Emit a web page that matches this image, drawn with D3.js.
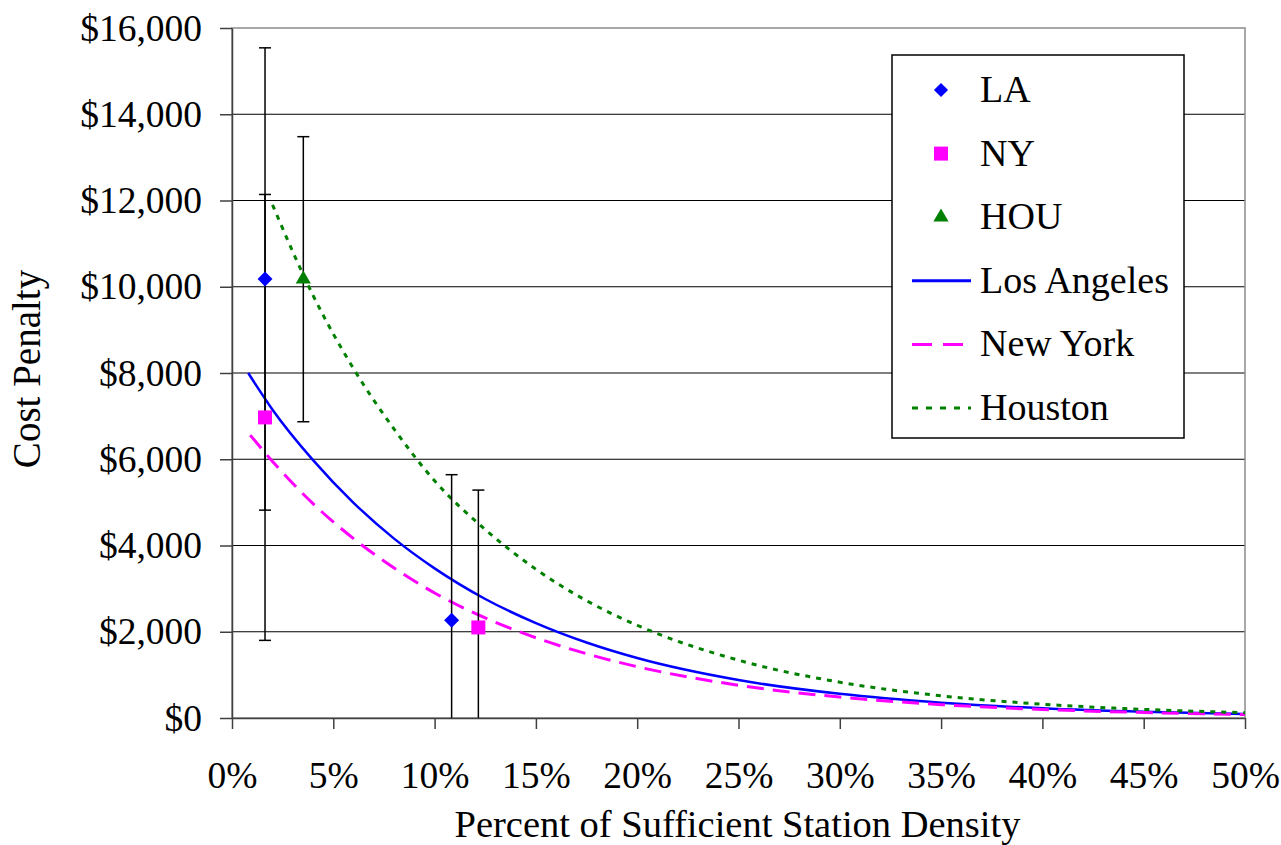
<!DOCTYPE html>
<html>
<head>
<meta charset="utf-8">
<script src="https://cdn.jsdelivr.net/npm/d3@7"></script>
<style>
  body { margin: 0; background: #fff; }
  svg text { font-family: "Liberation Serif", "Times New Roman", Times, "DejaVu Serif", serif !important; }
</style>
</head>
<body>
<div id="area_chart"></div>
<script>
// observed points (percent of sufficient density, cost penalty, error)
const laPct = [1.63, 10.84];
const laCost = [10180, 2265];
const laErr = [5360, 3377];

const nyPct = [1.63, 12.16];
const nyCost = [6970, 2100];
const nyErr = [5170, 3185];

const houPct = [3.52];
const houCost = [10175];
const houErr = [3305];

// fitted curves
const laCurvePct = [0.8, 2, 4, 6, 8, 10, 12.5, 15, 17.5, 20, 25, 30, 35, 40, 45, 50];
const laCurveCost = [8000, 7150, 5980, 4990, 4160, 3470, 2760, 2200, 1750, 1390, 880, 560, 355, 225, 143, 91];

const nyCurvePct = [0.9, 2, 4, 6, 8, 10, 12.5, 15, 17.5, 20, 25, 30, 35, 40, 45, 50];
const nyCurveCost = [6560, 5950, 4970, 4160, 3480, 2900, 2320, 1860, 1490, 1190, 760, 485, 310, 198, 127, 81];

const houCurvePct = [2, 4, 6, 8, 10, 12.5, 15, 17.5, 20, 25, 30, 35, 40, 45, 50];
const houCurveCost = [11900, 9800, 8100, 6700, 5500, 4370, 3450, 2720, 2150, 1340, 830, 515, 320, 200, 123];

const xTicks = [0, 5, 10, 15, 20, 25, 30, 35, 40, 45, 50];
const yTicks = [0, 2000, 4000, 6000, 8000, 10000, 12000, 14000, 16000];
const legendLabels = ["LA", "NY", "HOU", "Los Angeles", "New York", "Houston"];

const FONT = '"Liberation Serif", "Times New Roman", Times, "DejaVu Serif", serif';

function drawChart(){
    let dimensions = {
        width: 1281,
        height: 845,
        margin: { top: 28, left: 232, right: 36, bottom: 127 }
    };
    dimensions.boundedWidth = dimensions.width - dimensions.margin.left - dimensions.margin.right;
    dimensions.boundedHeight = dimensions.height - dimensions.margin.top - dimensions.margin.bottom;

    const svg = d3.select("#area_chart").append("svg")
        .attr("width", dimensions.width)
        .attr("height", dimensions.height)
        .style("font-family", FONT);

    const bounded = svg.append("g")
        .attr("transform", `translate(${dimensions.margin.left},${dimensions.margin.top})`);

    const xScale = d3.scaleLinear().domain([0, 50]).range([0, dimensions.boundedWidth]);
    const yScale = d3.scaleLinear().domain([0, 16000]).range([dimensions.boundedHeight, 0]);

    // gridlines
    bounded.append("g").selectAll("line")
        .data(yTicks.slice(1, -1))
        .join("line")
        .attr("x1", 0).attr("x2", dimensions.boundedWidth)
        .attr("y1", d => yScale(d)).attr("y2", d => yScale(d))
        .attr("stroke", "#000").attr("stroke-width", 1);

    bounded.append("rect")
        .attr("x", 0).attr("y", 0)
        .attr("width", dimensions.boundedWidth).attr("height", dimensions.boundedHeight)
        .attr("fill", "none").attr("stroke", "#8c8c8c").attr("stroke-width", 1.5);

    // curves
    const toPoints = (xs, ys) => xs.map((x, i) => [x, ys[i]]);
    const line = d3.line()
        .x(d => xScale(d[0]))
        .y(d => yScale(d[1]))
        .curve(d3.curveMonotoneX);

    bounded.append("path")
        .attr("d", line(toPoints(laCurvePct, laCurveCost)))
        .attr("fill", "none").attr("stroke", "#0000ff").attr("stroke-width", 2.5);
    bounded.append("path")
        .attr("d", line(toPoints(nyCurvePct, nyCurveCost)))
        .attr("fill", "none").attr("stroke", "#ff00ff").attr("stroke-width", 3)
        .attr("stroke-dasharray", "17,9");
    bounded.append("path")
        .attr("d", line(toPoints(houCurvePct, houCurveCost)))
        .attr("fill", "none").attr("stroke", "#008000").attr("stroke-width", 3)
        .attr("stroke-dasharray", "5,6");

    // error bars
    const series = [
        { pct: laPct, cost: laCost, err: laErr, shape: "diamond", color: "#0000ff" },
        { pct: nyPct, cost: nyCost, err: nyErr, shape: "square", color: "#ff00ff" },
        { pct: houPct, cost: houCost, err: houErr, shape: "triangle", color: "#008000" }
    ];

    const errG = bounded.append("g").attr("stroke", "#000").attr("stroke-width", 1.5);
    series.forEach(s => {
        s.pct.forEach((p, i) => {
            const x = xScale(p);
            const hi = yScale(s.cost[i] + s.err[i]);
            const lowVal = s.cost[i] - s.err[i];
            const lo = yScale(Math.max(0, lowVal));
            errG.append("line").attr("x1", x).attr("x2", x).attr("y1", hi).attr("y2", lo);
            errG.append("line").attr("x1", x - 6).attr("x2", x + 6).attr("y1", hi).attr("y2", hi);
            if (lowVal > 0) {
                errG.append("line").attr("x1", x - 6).attr("x2", x + 6).attr("y1", lo).attr("y2", lo);
            }
        });
    });

    const symbolFor = shape => {
        if (shape === "diamond") return d3.symbol(d3.symbolSquare, 112)();
        if (shape === "square") return d3.symbol(d3.symbolSquare, 196)();
        return d3.symbol(d3.symbolTriangle, 100)();
    };

    series.forEach(s => {
        bounded.append("g").selectAll("path")
            .data(s.pct.map((p, i) => [p, s.cost[i]]))
            .join("path")
            .attr("d", symbolFor(s.shape))
            .attr("transform", d => `translate(${xScale(d[0])},${yScale(d[1])})` + (s.shape === "diamond" ? " rotate(45)" : ""))
            .attr("fill", s.color);
    });

    // axes
    const xAxis = d3.axisBottom(xScale)
        .tickValues(xTicks).tickFormat(d => d + "%")
        .tickSize(11).tickSizeOuter(0).tickPadding(32);
    const yAxis = d3.axisLeft(yScale)
        .tickValues(yTicks).tickFormat(d => "$" + d3.format(",")(d))
        .tickSize(12).tickSizeOuter(0).tickPadding(18);

    const xG = bounded.append("g")
        .attr("transform", `translate(0,${dimensions.boundedHeight})`)
        .call(xAxis);
    const yG = bounded.append("g").call(yAxis);

    [xG, yG].forEach(g => {
        g.attr("font-family", null).attr("font-size", null);
        g.selectAll("path, line").attr("stroke", "#404040").attr("stroke-width", 1.5);
        g.selectAll("text").style("font-size", "37.5px").attr("fill", "#000")
            .style("font-family", FONT);
    });

    svg.append("text")
        .attr("x", dimensions.margin.left + dimensions.boundedWidth / 2 - 1)
        .attr("y", 837)
        .attr("text-anchor", "middle")
        .style("font-size", "38.5px")
        .text("Percent of Sufficient Station Density");

    svg.append("text")
        .attr("transform", `translate(40,${dimensions.margin.top + dimensions.boundedHeight / 2 - 4}) rotate(-90)`)
        .attr("text-anchor", "middle")
        .style("font-size", "39px")
        .text("Cost Penalty");

    // legend
    const legend = svg.append("g").attr("transform", "translate(892,55)");
    legend.append("rect")
        .attr("width", 292).attr("height", 383)
        .attr("fill", "#fff").attr("stroke", "#000").attr("stroke-width", 1.5);

    const rowY = i => 35 + i * 63.6;
    series.forEach((s, i) => {
        legend.append("path")
            .attr("d", s.shape === "diamond" ? d3.symbol(d3.symbolSquare, 100)() :
                       s.shape === "square" ? d3.symbol(d3.symbolSquare, 196)() :
                       d3.symbol(d3.symbolTriangle, 100)())
            .attr("transform", `translate(49,${rowY(i)})` + (s.shape === "diamond" ? " rotate(45)" : ""))
            .attr("fill", s.color);
    });

    const lineStyles = [
        { color: "#0000ff", dash: null },
        { color: "#ff00ff", dash: "20,11" },
        { color: "#008000", dash: "6,8" }
    ];
    lineStyles.forEach((ls, i) => {
        legend.append("line")
            .attr("x1", 20).attr("x2", 79)
            .attr("y1", rowY(i + 3)).attr("y2", rowY(i + 3))
            .attr("stroke", ls.color).attr("stroke-width", 3)
            .attr("stroke-dasharray", ls.dash);
    });

    legend.selectAll("text.label")
        .data(legendLabels)
        .join("text")
        .attr("class", "label")
        .attr("x", 88)
        .attr("y", (d, i) => rowY(i) + 12)
        .style("font-size", "38px")
        .text(d => d);
}

drawChart();
</script>
</body>
</html>
